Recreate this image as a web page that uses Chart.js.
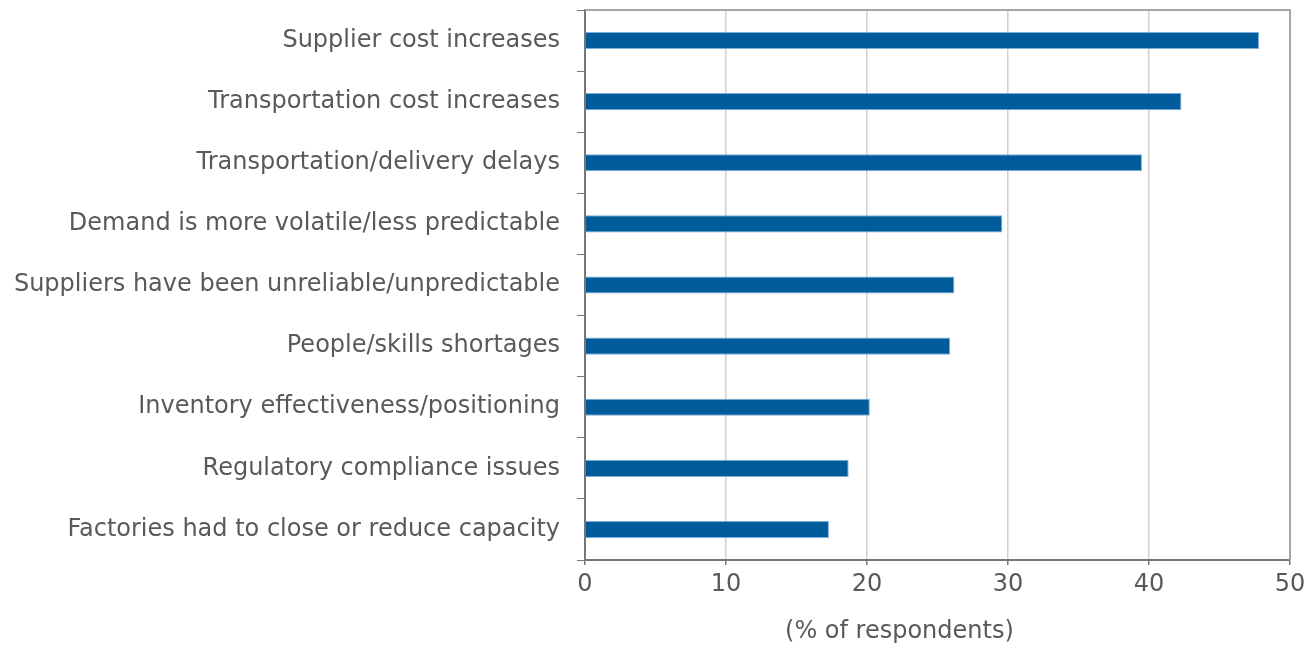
<!DOCTYPE html>
<html>
<head>
<meta charset="utf-8">
<script src="https://cdn.jsdelivr.net/npm/chart.js@4"></script>
<style>
    html, body { margin: 0; padding: 0; background: #fff; }
    #wrap { width: 1316px; height: 645px; }
</style>
</head>
<body>
<div id="wrap"><canvas id="issuesChart"></canvas></div>
<script>
// Chart data
const categories = [
    'Supplier cost increases',
    'Transportation cost increases',
    'Transportation/delivery delays',
    'Demand is more volatile/less predictable',
    'Suppliers have been unreliable/unpredictable',
    'People/skills shortages',
    'Inventory effectiveness/positioning',
    'Regulatory compliance issues',
    'Factories had to close or reduce capacity'
];
const respondentShares = [47.8, 42.3, 39.5, 29.6, 26.2, 25.9, 20.2, 18.7, 17.3];
const xTicks = [0, 10, 20, 30, 40, 50];
const axisTitle = '(% of respondents)';

const textColor = '#595959';
const fontFamily = '"DejaVu Sans", sans-serif';
const fontSize = 24;

// Light frame on top and right of the plot area, plus the x axis title
const frameLines = {
    id: 'frameLines',
    afterDraw(chart) {
        const { ctx, chartArea } = chart;
        ctx.save();
        ctx.strokeStyle = '#a6a6a6';
        ctx.lineWidth = 2;
        ctx.beginPath();
        ctx.moveTo(chartArea.left, chartArea.top);
        ctx.lineTo(chartArea.right, chartArea.top);
        ctx.lineTo(chartArea.right, chartArea.bottom);
        ctx.stroke();

        // title sits a bit left of the plot centre in the original
        const xScale = chart.scales.x;
        ctx.fillStyle = textColor;
        ctx.font = fontSize + 'px ' + fontFamily;
        ctx.textAlign = 'center';
        ctx.textBaseline = 'middle';
        ctx.fillText(axisTitle, xScale.getPixelForValue(22.3), chartArea.bottom + 72);
        ctx.restore();
    }
};

function renderChart() {
    const ctx = document.getElementById('issuesChart');
    if (!ctx) return;

    new Chart(ctx.getContext('2d'), {
        type: 'bar',
        data: {
            labels: categories,
            datasets: [{
                data: respondentShares,
                backgroundColor: '#005b9b',
                borderColor: 'rgba(110, 165, 215, 0.9)',
                borderWidth: 1,
                categoryPercentage: 1,
                barPercentage: 0.28
            }]
        },
        options: {
            indexAxis: 'y',
            responsive: true,
            maintainAspectRatio: false,
            animation: false,
            layout: { padding: { top: 10, right: 26, left: 0, bottom: 0 } },
            plugins: {
                legend: { display: false },
                tooltip: { enabled: false }
            },
            scales: {
                x: {
                    min: 0,
                    max: 50,
                    afterBuildTicks: function(axis) {
                        axis.ticks = xTicks.map(v => ({ value: v }));
                    },
                    afterFit: function(axis) { axis.height = 85; },
                    grid: {
                        color: '#d0d0d0',
                        lineWidth: 1.5,
                        tickLength: 5,
                        tickColor: '#777777'
                    },
                    border: { color: '#777777', width: 2 },
                    ticks: {
                        color: textColor,
                        padding: 5,
                        font: { family: fontFamily, size: fontSize }
                    }
                },
                y: {
                    afterFit: function(axis) {
                        axis.width = 585;
                        axis.paddingTop = 0;
                        axis.paddingBottom = 0;
                    },
                    grid: {
                        offset: true,
                        drawOnChartArea: false,
                        tickLength: 8,
                        tickColor: '#777777'
                    },
                    border: { color: '#777777', width: 2 },
                    ticks: {
                        color: textColor,
                        padding: 17,
                        font: { family: fontFamily, size: fontSize }
                    }
                }
            }
        },
        plugins: [frameLines]
    });
}

document.addEventListener('DOMContentLoaded', renderChart);
</script>
</body>
</html>
